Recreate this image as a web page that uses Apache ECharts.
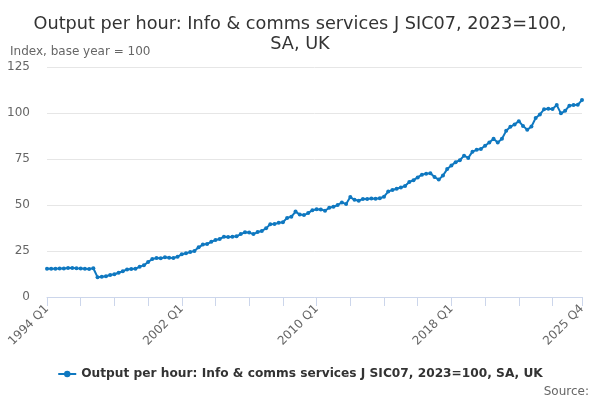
<!DOCTYPE html>
<html>
<head>
<meta charset="utf-8">
<script src="https://cdn.jsdelivr.net/npm/echarts@6/dist/echarts.min.js"></script>
<style>
  html, body { margin: 0; padding: 0; background: #fff; }
  #chart-container { width: 600px; height: 400px; }
</style>
</head>
<body>
<div id="chart-container"></div>
<script>
// quarters 1994 Q1 .. 2025 Q4
var startYear = 1994;
var endYear = 2025;
var quarters = [];
for (var y = startYear; y <= endYear; y++) {
    for (var q = 1; q <= 4; q++) {
        quarters.push(y + ' Q' + q);
    }
}

// Output per hour index
var outputPerHour = [
    15.3, 15.4, 15.4, 15.5, 15.5, 15.7, 15.8, 15.6, 15.5, 15.3, 15.2, 15.6,
    10.8, 11.0, 11.3, 12.0, 12.4, 13.2, 14.0, 15.0, 15.2, 15.3, 16.5, 17.2,
    19.0, 20.6, 21.2, 21.0, 21.6, 21.3, 21.2, 21.9, 23.2, 23.8, 24.4, 25.0,
    27.0, 28.5, 28.8, 30.0, 31.0, 31.5, 32.8, 32.6, 32.7, 33.0, 34.2, 35.2,
    35.0, 34.2, 35.3, 35.9, 37.3, 39.5, 39.7, 40.3, 40.6, 43.0, 43.6, 46.4,
    44.8, 44.5, 45.6, 47.2, 47.7, 47.6, 46.9, 48.5, 49.0, 50.0, 51.4, 50.5,
    54.3, 52.8, 52.3, 53.3, 53.3, 53.5, 53.4, 53.7, 54.5, 57.3, 58.2, 58.8,
    59.5, 60.3, 62.5, 63.5, 65.0, 66.5, 67.0, 67.2, 65.2, 63.8, 66.0, 69.5,
    71.5, 73.3, 74.3, 76.8, 75.6, 79.0, 80.0, 80.5, 82.2, 84.0, 86.0, 84.0,
    86.0, 90.3, 92.5, 93.8, 95.5, 93.0, 90.9, 92.6, 97.3, 99.2, 102.0, 102.3,
    102.2, 104.3, 99.8, 101.2, 104.0, 104.3, 104.5, 107.0
];

var seriesName = 'Output per hour: Info & comms services J SIC07, 2023=100, SA, UK';
var yTicks = [0, 25, 50, 75, 100, 125];

var dom = document.getElementById('chart-container');
var myChart = echarts.init(dom, null, { renderer: 'canvas' });

var lastIndex = quarters.length - 1;
var font = 'DejaVu Sans';

var option = {
    animation: false,
    textStyle: { fontFamily: font },
    title: {
        text: 'Output per hour: Info & comms services J SIC07, 2023=100,\nSA, UK',
        left: 'center',
        top: 9,
        textStyle: {
            fontFamily: font,
            fontSize: 17.7,
            fontWeight: 'normal',
            color: '#333333',
            lineHeight: 20
        }
    },
    graphic: [
        {
            type: 'text',
            left: 10,
            top: 46,
            style: {
                text: 'Index, base year = 100',
                fontFamily: font,
                fontSize: 12,
                fill: '#666666'
            }
        },
        {
            type: 'text',
            right: 11,
            bottom: 2,
            style: {
                text: 'Source:',
                fontFamily: font,
                fontSize: 12,
                fill: '#666666'
            }
        }
    ],
    legend: {
        bottom: 15,
        left: 'center',
        itemWidth: 18,
        itemHeight: 8,
        textStyle: {
            fontFamily: font,
            fontSize: 12.2,
            fontWeight: 'bold',
            color: '#333333'
        },
        data: [seriesName]
    },
    grid: {
        left: 47,
        right: 18,
        top: 67,
        bottom: 103
    },
    xAxis: {
        type: 'category',
        boundaryGap: false,
        data: quarters,
        axisLine: { lineStyle: { color: '#ccd6eb' } },
        axisTick: {
            length: 9,
            lineStyle: { color: '#ccd6eb' },
            interval: function (index) {
                return index % 8 === 0 || index === lastIndex;
            }
        },
        axisLabel: {
            rotate: 45,
            color: '#666666',
            fontSize: 12,
            margin: 10,
            interval: function (index) {
                return index % 32 === 0 || index === lastIndex;
            }
        }
    },
    yAxis: {
        type: 'value',
        min: yTicks[0],
        max: yTicks[yTicks.length - 1],
        interval: 25,
        axisLine: { show: false },
        axisTick: { show: false },
        axisLabel: { color: '#666666', fontSize: 12, margin: 17 },
        splitLine: { lineStyle: { color: '#e6e6e6' } }
    },
    series: [
        {
            name: seriesName,
            type: 'line',
            data: outputPerHour,
            color: '#0f78c0',
            symbol: 'circle',
            symbolSize: 4,
            showAllSymbol: true,
            lineStyle: { width: 2 },
            itemStyle: { color: '#0f78c0' }
        }
    ]
};

myChart.setOption(option);
window.addEventListener('resize', myChart.resize);
</script>
</body>
</html>
